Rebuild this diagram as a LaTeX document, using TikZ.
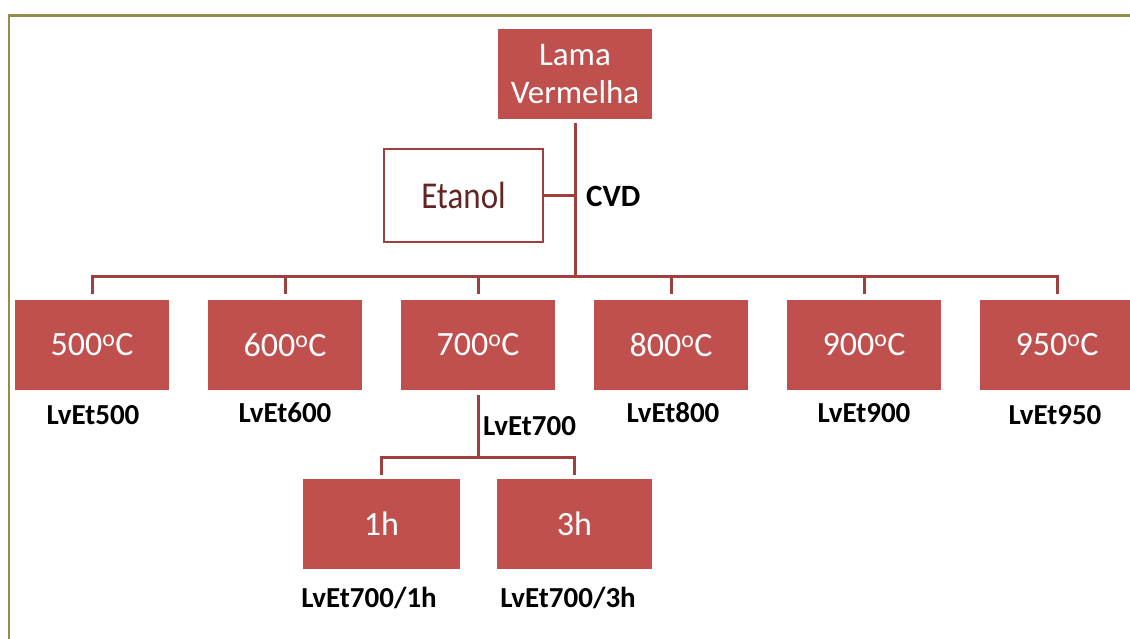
\documentclass[tikz,border=0pt]{standalone}
\usepackage{fontspec}
\usepackage{graphicx}
\setmainfont{Carlito}
\definecolor{boxred}{HTML}{C0504D}
\definecolor{linered}{HTML}{A0403E}
\definecolor{etantxt}{HTML}{632523}
\definecolor{frame}{HTML}{958B4E}
\tikzset{
  redbox/.style={fill=boxred, draw=none, minimum width=154pt, minimum height=90pt, inner sep=0pt,
    text=white, font=\fontsize{34}{38}\selectfont, align=center},
  whitebox/.style={fill=white, draw=linered, line width=2.5pt, minimum width=159pt, minimum height=93pt,
    inner sep=0pt, text=etantxt, font=\fontsize{33}{40}\selectfont},
  lbl/.style={font=\fontsize{29}{32}\selectfont\bfseries, text=black, inner sep=0pt},
  conn/.style={draw=linered, line width=3pt},
}
\newcommand{\degsup}{\textsuperscript{o}}
\begin{document}
\begin{tikzpicture}[x=1pt,y=-1pt]
\useasboundingbox (0,0) rectangle (1130,639);
\fill[white] (0,0) rectangle (1130,639);
% frame
\draw[frame, line width=2.5pt] (9,639) -- (9,15.5) -- (1130,15.5);
% nodes
\node[redbox, font=\fontsize{33}{38}\selectfont] (lama) at (575,74) {Lama\\Vermelha};
\node[whitebox] (etanol) at (463.5,195.5) {\scalebox{1}[1.15]{Etanol}};
\node[lbl, anchor=west, font=\fontsize{31}{32}\selectfont\bfseries] (cvd) at (586,196) {CVD};
\node[redbox] (t500) at (92,345) {500\degsup C};
\node[redbox] (t600) at (285,345) {600\degsup C};
\node[redbox] (t700) at (478,345) {700\degsup C};
\node[redbox] (t800) at (671,345) {800\degsup C};
\node[redbox] (t900) at (864,345) {900\degsup C};
\node[redbox] (t950) at (1057,345) {950\degsup C};
\node[lbl] (l500) at (93,415) {LvEt500};
\node[lbl] (l600) at (285,413) {LvEt600};
\node[lbl] (l800) at (673,413) {LvEt800};
\node[lbl] (l900) at (864,413) {LvEt900};
\node[lbl] (l950) at (1055,415) {LvEt950};
\node[lbl, anchor=west] (l700) at (483,426) {LvEt700};
\node[redbox, minimum width=157pt] (h1) at (381.5,524) {1h};
\node[redbox, minimum width=155pt] (h3) at (574.5,524) {3h};
\node[lbl] (l1h) at (369,598) {LvEt700/1h};
\node[lbl] (l3h) at (568,598) {LvEt700/3h};
% connectors
\coordinate (bar) at (575,276);
\draw[conn, shorten <=4pt] (lama.south) -- (bar);
\draw[conn] (etanol.east) -- (lama.south |- etanol.east);
\draw[conn, line cap=rect] (t500.north |- bar) -- (t950.north |- bar);
\foreach \n in {t500,t600,t700,t800,t900,t950}{
  \draw[conn, shorten >=6pt] (\n.north |- bar) -- (\n.north);
}
\coordinate (bar2) at (478,457);
\draw[conn, shorten <=5pt] (t700.south) -- (bar2);
\draw[conn, line cap=rect] (h1.north |- bar2) -- (h3.north |- bar2);
\draw[conn, shorten >=4pt] (h1.north |- bar2) -- (h1.north);
\draw[conn, shorten >=4pt] (h3.north |- bar2) -- (h3.north);
\end{tikzpicture}
\end{document}
